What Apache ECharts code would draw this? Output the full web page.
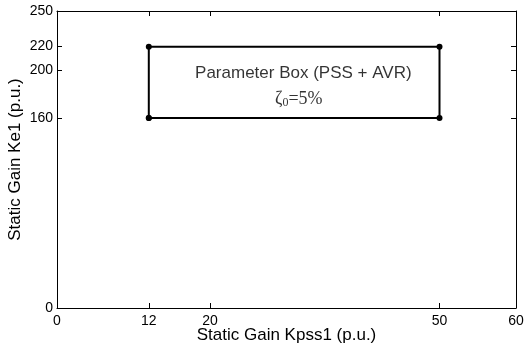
<!DOCTYPE html>
<html>
<head>
<meta charset="utf-8">
<script src="https://cdn.jsdelivr.net/npm/echarts@6/dist/echarts.min.js"></script>
<style>
  html, body { margin: 0; padding: 0; background: #fff; }
  #chart { width: 526px; height: 348px; }
</style>
</head>
<body>
<div id="chart"></div>
<script>
// Tick positions on each axis
const xTicks = [0, 12, 20, 50, 60];
const yTicks = [0, 160, 200, 220, 250];

// Corners of the PSS + AVR parameter box (Kpss1, Ke1), closed loop
const boxKpss = [12, 50, 50, 12, 12];
const boxKe = [160, 160, 220, 220, 160];

const boxTitle = 'Parameter Box (PSS + AVR)';
const dampingRatio = '5%';

const FONT = '"Liberation Sans", Arial, sans-serif';
const SERIF = '"Liberation Serif", "Times New Roman", serif';

const chart = echarts.init(document.getElementById('chart'), null, { renderer: 'canvas' });

const tickInner = { show: true, inside: true, length: 5, lineStyle: { color: '#000', width: 1 } };
const lineBlack = { show: true, onZero: false, lineStyle: { color: '#000', width: 1 } };

chart.setOption({
  animation: false,
  backgroundColor: '#fff',
  grid: { left: 57, right: 10, top: 11, bottom: 40, containLabel: false, outerBoundsMode: 'none' },
  xAxis: [
    {
      type: 'value', min: 0, max: 60, position: 'bottom',
      name: 'Static Gain Kpss1 (p.u.)', nameLocation: 'middle', nameGap: 19,
      nameMoveOverlap: false,
      nameTextStyle: { fontFamily: FONT, fontSize: 17, color: '#000' },
      axisLine: lineBlack,
      axisTick: Object.assign({ customValues: xTicks }, tickInner),
      axisLabel: { customValues: xTicks, fontFamily: FONT, fontSize: 14, color: '#000', margin: 6 },
      splitLine: { show: false }
    },
    {
      type: 'value', min: 0, max: 60, position: 'top',
      axisLine: lineBlack,
      axisTick: Object.assign({ customValues: xTicks }, tickInner),
      axisLabel: { show: false },
      splitLine: { show: false }
    }
  ],
  yAxis: [
    {
      type: 'value', min: 0, max: 250, position: 'left',
      name: 'Static Gain Ke1 (p.u.)', nameLocation: 'middle', nameGap: 33,
      nameMoveOverlap: false,
      nameTextStyle: { fontFamily: FONT, fontSize: 17, color: '#000' },
      axisLine: lineBlack,
      axisTick: Object.assign({ customValues: yTicks }, tickInner),
      axisLabel: { customValues: yTicks, fontFamily: FONT, fontSize: 14, color: '#000', margin: 4 },
      splitLine: { show: false }
    },
    {
      type: 'value', min: 0, max: 250, position: 'right',
      axisLine: lineBlack,
      axisTick: Object.assign({ customValues: yTicks }, tickInner),
      axisLabel: { show: false },
      splitLine: { show: false }
    }
  ],
  series: [
    {
      name: 'Parameter Box',
      type: 'line',
      xAxisIndex: 0, yAxisIndex: 0,
      data: boxKpss.map((k, i) => [k, boxKe[i]]),
      symbol: 'circle', symbolSize: 6,
      itemStyle: { color: '#000' },
      lineStyle: { color: '#000', width: 2 },
      z: 3
    },
    {
      name: 'Box Label',
      type: 'scatter',
      xAxisIndex: 0, yAxisIndex: 0,
      symbolSize: 0,
      silent: true,
      data: [
        { value: [32.2, 197.5], label: { formatter: boxTitle, fontFamily: FONT, fontSize: 17, color: '#000' } },
        { value: [31.6, 175.5], label: { formatter: '{z|ζ}{s|0}{z|=' + dampingRatio + '}', rich: {
            z: { fontFamily: SERIF, fontSize: 18, color: '#000' },
            s: { fontFamily: SERIF, fontSize: 12, color: '#000', verticalAlign: 'bottom', padding: [5, 0, 0, 0] }
          } } }
      ],
      label: { show: true, position: 'inside', align: 'center', verticalAlign: 'middle' }
    }
  ]
});
</script>
</body>
</html>
